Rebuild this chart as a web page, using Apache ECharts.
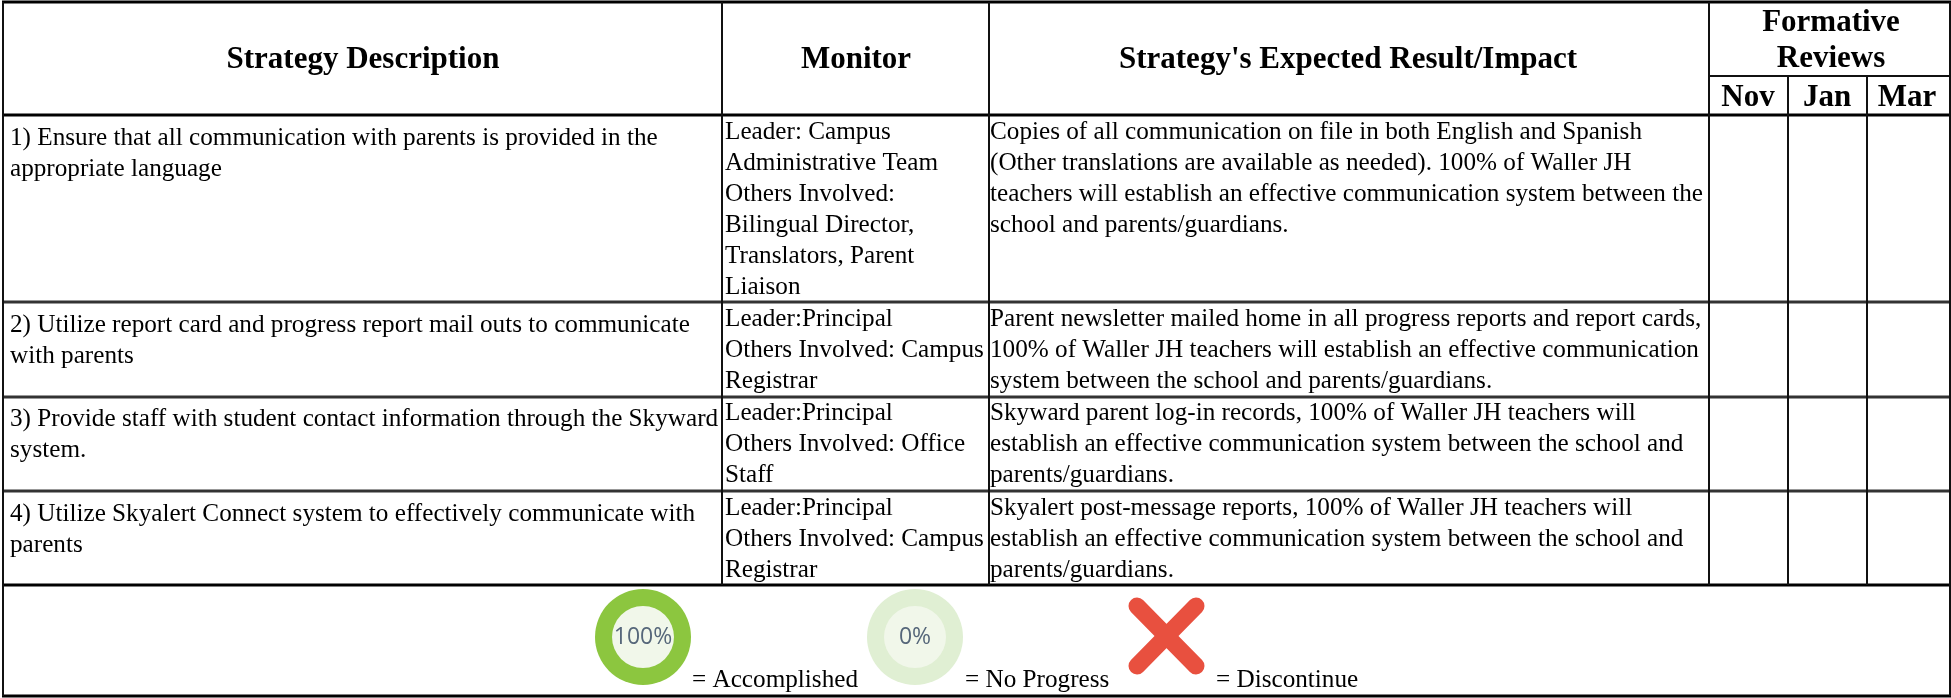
<!DOCTYPE html>
<html><head><meta charset="utf-8">
<style>html,body{margin:0;padding:0;background:#fff}#c{width:1951px;height:698px}</style>
<script src="https://cdn.jsdelivr.net/npm/echarts@6/dist/echarts.min.js"></script>
</head><body><div id="c"></div>
<script>
// ---- table content ----
var headers = ["Strategy Description", "Monitor", "Strategy's Expected Result/Impact"];
var groupHeader = ["Formative", "Reviews"];
var months = ["Nov", "Jan", "Mar"];
var strategies = [
  ["1) Ensure that all communication with parents is provided in the", "appropriate language"],
  ["2) Utilize report card and progress report mail outs to communicate", "with parents"],
  ["3) Provide staff with student contact information through the Skyward", "system."],
  ["4) Utilize Skyalert Connect system to effectively communicate with", "parents"]
];
var monitors = [
  ["Leader: Campus", "Administrative Team", "Others Involved:", "Bilingual Director,", "Translators, Parent", "Liaison"],
  ["Leader:Principal", "Others Involved: Campus", "Registrar"],
  ["Leader:Principal", "Others Involved: Office", "Staff"],
  ["Leader:Principal", "Others Involved: Campus", "Registrar"]
];
var impacts = [
  ["Copies of all communication on file in both English and Spanish", "(Other translations are available as needed). 100% of Waller JH", "teachers will establish an effective communication system between the", "school and parents/guardians."],
  ["Parent newsletter mailed home in all progress reports and report cards,", "100% of Waller JH teachers will establish an effective communication", "system between the school and parents/guardians."],
  ["Skyward parent log-in records, 100% of Waller JH teachers will", "establish an effective communication system between the school and", "parents/guardians."],
  ["Skyalert post-message reports, 100% of Waller JH teachers will", "establish an effective communication system between the school and", "parents/guardians."]
];
var legendLabels = ["= Accomplished", "= No Progress", "= Discontinue"];
var legendBadges = ["100%", "0%"];

// ---- layout ----
var colX = [3, 722, 989, 1709, 1788, 1867, 1950];
var rowY = [2, 115, 302, 397, 491, 585, 696];
var subHeadY = 76;
var firstLineY = [132, 319, 413, 508];
var col1Shift = 6, lineGap = 31;
var F = '"Liberation Serif","Times New Roman",serif';
var BODY = 25.2, HEAD = 31;

function line(api, x1, y1, x2, y2, w, color) {
  var a = api.coord([x1, y1]), b = api.coord([x2, y2]);
  return {type: 'line', shape: {x1: a[0], y1: a[1], x2: b[0], y2: b[1]}, style: {stroke: color || '#111', lineWidth: w, lineCap: 'butt'}, silent: true};
}
function text(api, x, y, s, size, weight, align, color) {
  var p = api.coord([x, y]);
  return {type: 'text', x: p[0], y: p[1], style: {text: s, font: (weight || 'normal') + ' ' + size + 'px ' + F, fill: color || '#000', textAlign: align || 'left', textVerticalAlign: 'middle'}, silent: true};
}
function ring(api, cx, cy, color, label) {
  var p = api.coord([cx, cy]);
  return [
    {type: 'circle', shape: {cx: p[0], cy: p[1], r: 48}, style: {fill: color}, silent: true},
    {type: 'circle', shape: {cx: p[0], cy: p[1], r: 31}, style: {fill: '#f1f7ea'}, silent: true},
    {type: 'text', x: p[0], y: p[1], style: {text: label, font: '23px "Open Sans",sans-serif', fill: '#56677a', textAlign: 'center', textVerticalAlign: 'middle'}, silent: true}
  ];
}

function renderAll(params, api) {
  var kids = [];
  [0, 1, 2, 3, 4, 5, 6].forEach(function (i) {
    var c = (i === 2 || i === 3 || i === 4) ? '#333' : '#000';
    kids.push(line(api, 2, rowY[i], 1951, rowY[i], 3, c));
  });
  kids.push(line(api, 1709, subHeadY, 1951, subHeadY, 2));
  [0, 6].forEach(function (i) { kids.push(line(api, colX[i], rowY[0], colX[i], rowY[6], 2)); });
  [1, 2, 3].forEach(function (i) { kids.push(line(api, colX[i], rowY[0], colX[i], rowY[5], 2)); });
  [4, 5].forEach(function (i) { kids.push(line(api, colX[i], subHeadY, colX[i], rowY[5], 2)); });
  kids.push(text(api, 363, 60, headers[0], HEAD, 'bold', 'center'));
  kids.push(text(api, 856, 60, headers[1], HEAD, 'bold', 'center'));
  kids.push(text(api, 1348, 60, headers[2], HEAD, 'bold', 'center'));
  groupHeader.forEach(function (s, i) { kids.push(text(api, 1831, 23 + i * 36, s, HEAD, 'bold', 'center')); });
  var mx = [1748, 1827, 1907];
  months.forEach(function (s, i) { kids.push(text(api, mx[i], 98, s, HEAD, 'bold', 'center')); });
  firstLineY.forEach(function (y0, r) {
    strategies[r].forEach(function (s, i) { kids.push(text(api, 10, y0 + col1Shift + i * lineGap, s, BODY)); });
    monitors[r].forEach(function (s, i) { kids.push(text(api, 725, y0 + i * lineGap, s, BODY)); });
    impacts[r].forEach(function (s, i) { kids.push(text(api, 990, y0 + i * lineGap, s, BODY)); });
  });
  kids = kids.concat(ring(api, 643, 637, '#8cc63f', legendBadges[0]));
  kids = kids.concat(ring(api, 915, 637, '#e0efd3', legendBadges[1]));
  kids.push({type: 'line', shape: {x1: 1137, y1: 606, x2: 1196, y2: 666}, style: {stroke: '#e8503f', lineWidth: 17, lineCap: 'round'}, silent: true});
  kids.push({type: 'line', shape: {x1: 1196, y1: 606, x2: 1137, y2: 666}, style: {stroke: '#e8503f', lineWidth: 17, lineCap: 'round'}, silent: true});
  var lx = [692, 965, 1216];
  legendLabels.forEach(function (s, i) { kids.push(text(api, lx[i], 680, s, BODY)); });
  return {type: 'group', children: kids};
}

var chart = echarts.init(document.getElementById('c'), null, {renderer: 'canvas'});
chart.setOption({
  animation: false,
  backgroundColor: '#fff',
  grid: {left: 0, right: 0, top: 0, bottom: 0},
  xAxis: {type: 'value', min: 0, max: 1951, show: false},
  yAxis: {type: 'value', min: 0, max: 698, inverse: true, show: false},
  series: [{type: 'custom', coordinateSystem: 'cartesian2d', data: [[0, 0]], renderItem: renderAll, clip: false, silent: true}]
});
</script></body></html>
